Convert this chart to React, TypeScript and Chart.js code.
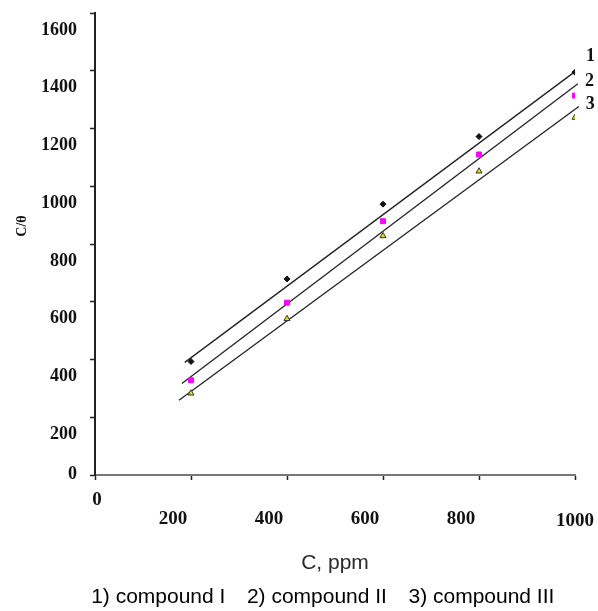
import React, { useEffect, useRef } from 'react';
import { Chart, registerables } from 'chart.js';

Chart.register(...registerables);

// Measured points (C, ppm vs C/θ)
const concentrations = [200, 400, 600, 800, 1000];
const compoundI = [393, 679, 938, 1172, 1395];
const compoundII = [328, 597, 879, 1110, 1314];
const compoundIII = [283, 541, 828, 1052, 1238];

// Fitted straight lines (end points)
const fitIX = [187, 1000];
const fitIY = [390, 1397];
const fitIIX = [181, 1006];
const fitIIY = [317, 1355];
const fitIIIX = [175, 1008];
const fitIIIY = [259, 1276];

const curveNumbers = ['1', '2', '3'];
const seriesNames = ['1) compound I', '2) compound II', '3) compound III'];
const xTitle = 'C, ppm';
const yTitle = 'C/θ';
const originLabel = '0';
const xMax = 1000;

const toPoints = (xs: number[], ys: number[]) => xs.map((x, i) => ({ x, y: ys[i] }));

const tickFont = (size: number) => `bold ${size}px "Liberation Serif", "DejaVu Serif", serif`;

const curveLabelPlugin = {
  id: 'curveLabels',
  afterLayout(chart: any) {
    // the caption in the reference sits a little right of the page centre
    const lg = chart.legend;
    if (lg) {
      lg.left += 30;
      lg.right += 30;
    }
  },
  afterDraw(chart: any) {
    const ctx = chart.ctx;
    const xs = chart.scales.x;
    const ys = chart.scales.y;
    ctx.save();
    ctx.fillStyle = '#111';
    // origin labels and last x label (unshifted, as in the reference)
    ctx.font = tickFont(18);
    ctx.textAlign = 'right';
    ctx.textBaseline = 'middle';
    ctx.fillText(originLabel, ys.right - 18, ys.getPixelForValue(0) - 1);
    ctx.font = tickFont(19);
    ctx.textAlign = 'center';
    ctx.fillText(originLabel, xs.getPixelForValue(0) + 2, xs.top + 25);
    ctx.fillText(String(xMax), xs.getPixelForValue(xMax), xs.top + 46);
    // y axis title
    ctx.font = tickFont(14);
    ctx.translate(22, (chart.chartArea.top + chart.chartArea.bottom) / 2 - 18);
    ctx.rotate(-Math.PI / 2);
    ctx.fillText(yTitle, 0, 0);
    ctx.restore();
  },
  afterDatasetsDraw(chart: any) {
    const ctx = chart.ctx;
    const offsets = [
      { dx: 11, dy: -15 },
      { dx: 7, dy: -2 },
      { dx: 7, dy: -2 },
    ];
    ctx.save();
    ctx.font = tickFont(18);
    ctx.fillStyle = '#111';
    ctx.textAlign = 'left';
    ctx.textBaseline = 'middle';
    [3, 4, 5].forEach((di, k) => {
      const meta = chart.getDatasetMeta(di);
      const last = meta.data[meta.data.length - 1];
      if (!last) return;
      ctx.fillText(curveNumbers[k], last.x + offsets[k].dx, last.y + offsets[k].dy);
    });
    ctx.restore();
  },
};

const noScalePadding = (s: any) => {
  s.paddingTop = 0;
  s.paddingBottom = 0;
  s.paddingLeft = 0;
  s.paddingRight = 0;
};

export default function App() {
  const canvasRef = useRef<HTMLCanvasElement | null>(null);

  useEffect(() => {
    if (!canvasRef.current) return;
    const chart = new Chart(canvasRef.current, {
      type: 'scatter',
      data: {
        datasets: [
          {
            label: seriesNames[0],
            data: toPoints(concentrations, compoundI),
            pointStyle: 'rectRot',
            pointRadius: 3,
            backgroundColor: '#111',
            borderColor: '#111',
            borderWidth: 1,
          },
          {
            label: seriesNames[1],
            data: toPoints(concentrations, compoundII),
            pointStyle: 'rect',
            pointRadius: 3.5,
            backgroundColor: '#ff00ff',
            borderColor: '#ff00ff',
            borderWidth: 1,
          },
          {
            label: seriesNames[2],
            data: toPoints(concentrations, compoundIII),
            pointStyle: 'triangle',
            pointRadius: 3.5,
            backgroundColor: '#e8e000',
            borderColor: '#333',
            borderWidth: 1,
          },
          {
            label: 'fit I',
            data: toPoints(fitIX, fitIY),
            showLine: true,
            pointRadius: 0,
            borderColor: '#222',
            borderWidth: 1.3,
            clip: false,
          } as any,
          {
            label: 'fit II',
            data: toPoints(fitIIX, fitIIY),
            showLine: true,
            pointRadius: 0,
            borderColor: '#222',
            borderWidth: 1.3,
            clip: false,
          } as any,
          {
            label: 'fit III',
            data: toPoints(fitIIIX, fitIIIY),
            showLine: true,
            pointRadius: 0,
            borderColor: '#222',
            borderWidth: 1.3,
            clip: false,
          } as any,
        ],
      },
      options: {
        animation: false,
        responsive: false,
        maintainAspectRatio: false,
        layout: { padding: { top: 13, right: 23, left: 0, bottom: -7 } },
        plugins: {
          tooltip: { enabled: false },
          legend: {
            display: true,
            position: 'bottom',
            labels: {
              boxWidth: 0,
              boxHeight: 0,
              padding: 11,
              color: '#2a2a2a',
              font: { family: '"Liberation Sans", Arial, sans-serif', size: 21 },
              generateLabels: () =>
                seriesNames.map((t, i) => ({
                  text: t,
                  fillStyle: 'rgba(0,0,0,0)',
                  strokeStyle: 'rgba(0,0,0,0)',
                  lineWidth: 0,
                  hidden: false,
                  datasetIndex: i,
                })),
            },
          },
        },
        scales: {
          x: {
            type: 'linear',
            min: 0,
            max: xMax,
            afterFit: (s: any) => {
              s.height = 101;
              noScalePadding(s);
            },
            ticks: {
              stepSize: 200,
              padding: 28,
              labelOffset: -18,
              color: '#111',
              callback: (v: any) => (v === 0 || v === xMax ? '' : String(v)),
              font: { family: '"Liberation Serif", "DejaVu Serif", serif', size: 19, weight: 'bold' },
            },
            grid: { drawOnChartArea: false, drawTicks: true, tickLength: 5, color: '#222', tickWidth: 1.5 },
            border: { display: true, color: '#777', width: 2 },
            title: {
              display: true,
              text: xTitle,
              color: '#2a2a2a',
              padding: { top: 0, bottom: 0 },
              font: { family: '"Liberation Sans", Arial, sans-serif', size: 21 },
            },
          },
          y: {
            type: 'linear',
            min: 0,
            max: 1600,
            afterFit: (s: any) => {
              s.width = 95;
              noScalePadding(s);
            },
            ticks: {
              stepSize: 200,
              padding: 13,
              labelOffset: 17,
              color: '#111',
              callback: (v: any) => (v === 0 ? '' : String(v)),
              font: { family: '"Liberation Serif", "DejaVu Serif", serif', size: 18, weight: 'bold' },
            },
            grid: { drawOnChartArea: false, drawTicks: true, tickLength: 5, color: '#222', tickWidth: 1.5 },
            border: { display: true, color: '#222', width: 2 },
            title: { display: false },
          },
        },
      },
      plugins: [curveLabelPlugin],
    });
    return () => chart.destroy();
  }, []);

  return (
    <div style={{ position: 'fixed', left: 0, top: 0, width: 598, height: 611, background: '#fff' }}>
      <canvas ref={canvasRef} width={598} height={611} style={{ width: 598, height: 611, display: 'block' }} />
    </div>
  );
}
